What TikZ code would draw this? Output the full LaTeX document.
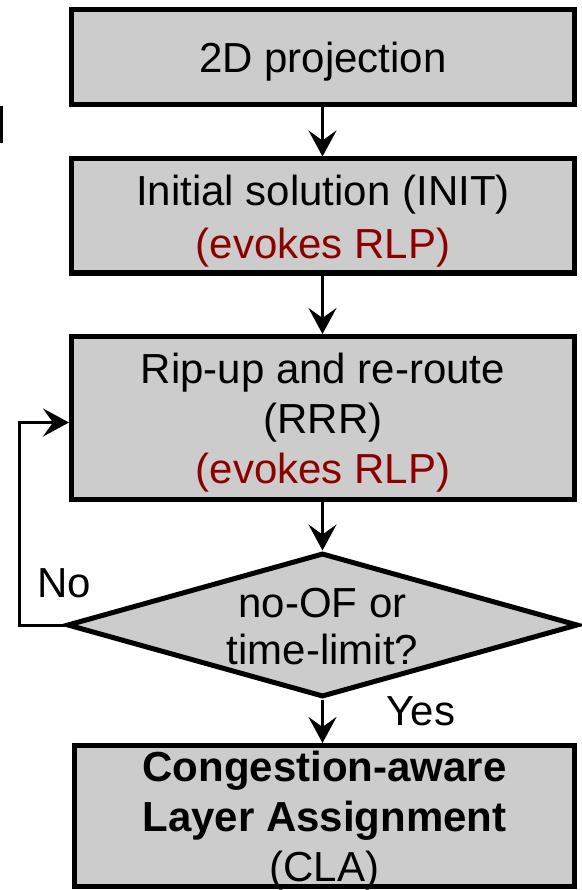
\documentclass[tikz,border=0pt]{standalone}
\usepackage{fontspec}
\setmainfont{Liberation Sans}
\usetikzlibrary{shapes.geometric,arrows.meta}
\definecolor{boxgray}{RGB}{204,204,204}
\definecolor{rlpred}{RGB}{140,0,0}
\begin{document}
\begin{tikzpicture}[x=1pt,y=-1pt,
  stage/.style={rectangle, draw=black, line width=5pt, fill=boxgray,
    inner sep=0pt},
  caption/.style={inner sep=0pt, align=center, font=\fontsize{42}{50}\selectfont},
  decision/.style={diamond, draw=black, line width=5pt, fill=boxgray,
    inner sep=0pt},
  flow/.style={line width=3pt, -{Stealth[length=26pt,width=28pt,inset=10pt]}},
  lbl/.style={inner sep=0pt, font=\fontsize{42}{50}\selectfont}]
\useasboundingbox (0,0) rectangle (581,890);

% small mark at the left edge
\fill[black] (0,106) rectangle (3,143);

% process stages
\node[stage, minimum width=503pt, minimum height=95pt] (proj) at (323,57) {};
\node[caption] (projtext) at ([yshift=-5pt]proj.center) {2D projection};

\node[stage, minimum width=503pt, minimum height=114pt] (init) at (323,216) {};
\node[caption, font=\fontsize{42}{53}\selectfont] (inittext)
  at ([yshift=-5pt]init.center)
  {Initial solution (INIT)\\\textcolor{rlpred}{(evokes RLP)}};

\node[stage, minimum width=503pt, minimum height=163pt] (rrr) at (323,418) {};
\node[caption] (rrrtext) at ([yshift=-5pt]rrr.center)
  {Rip-up and re-route\\(RRR)\\\textcolor{rlpred}{(evokes RLP)}};

% stopping test
\node[decision, minimum width=511pt, minimum height=144pt] (check) at (322.5,625) {};
\node[caption, font=\fontsize{42}{47}\selectfont] (checktext) at (322.5,627)
  {no-OF or\\time-limit?};

% final stage: fill, text, then the frame on top of the text
\node[rectangle, fill=boxgray, inner sep=0pt, outer sep=0pt,
  minimum width=500pt, minimum height=141pt] (cla) at (324.5,816) {};
\node[caption] (clatext) at ([yshift=-5pt]cla.center)
  {\textbf{Congestion-aware}\\\textbf{Layer Assignment}\\(CLA)};
\draw[line width=5pt] (cla.south west) rectangle (cla.north east);

% connectors
\draw[flow] (proj.south -| check.north) -- (init.north -| check.north);
\draw[flow] (init.south -| check.north) -- (rrr.north -| check.north);
\draw[flow] (rrr.south -| check.north) -- (check.north);
\draw[flow] (check.south) -- ([yshift=2.5pt]check.south |- cla.north);
\draw[flow] (check.west) -- ++(-45,0) |- ([yshift=-4.5pt]rrr.west);

% branch labels
\node[lbl] (nolbl) at (64,583) {No};
\node[lbl] (yeslbl) at (421,711) {Yes};
\end{tikzpicture}
\end{document}
